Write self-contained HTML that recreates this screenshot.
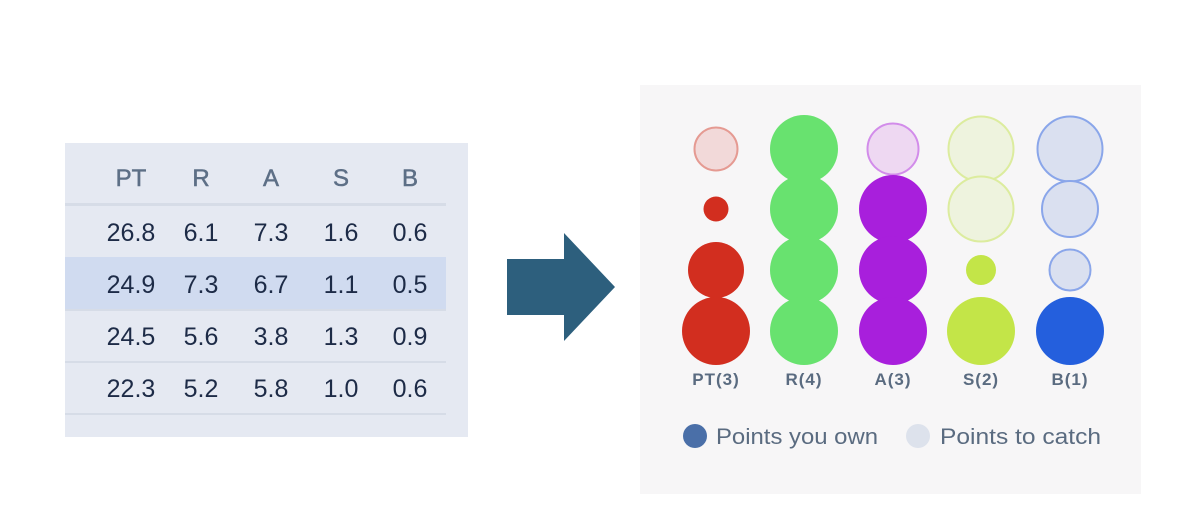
<!DOCTYPE html>
<html><head><meta charset="utf-8"><style>
html,body{margin:0;padding:0;background:#fff;}
svg{display:block;}
</style></head><body>
<svg width="1192" height="532" viewBox="0 0 1192 532" xmlns="http://www.w3.org/2000/svg" font-family="Liberation Sans, sans-serif">
<rect x="0" y="0" width="1192" height="532" fill="#ffffff"/>
<!-- table -->
<rect x="65" y="143" width="403" height="294" fill="#e5e9f2"/>
<rect x="65" y="257" width="381" height="52" fill="#d0dbf0"/>
<g fill="#d6dce7">
<rect x="65" y="203" width="381" height="3"/>
<rect x="65" y="309" width="381" height="2"/>
<rect x="65" y="361" width="381" height="2"/>
<rect x="65" y="413" width="381" height="2"/>
</g>
<g font-size="24" fill="#5d6f86" text-anchor="middle" stroke="#5d6f86" stroke-width="0.5">
<text x="131" y="186">PT</text><text x="201" y="186">R</text><text x="271" y="186">A</text><text x="341" y="186">S</text><text x="410" y="186">B</text>
</g>
<g font-size="25" fill="#1d2b47" text-anchor="middle">
<text x="131" y="241">26.8</text><text x="201" y="241">6.1</text><text x="271" y="241">7.3</text><text x="341" y="241">1.6</text><text x="410" y="241">0.6</text>
<text x="131" y="293">24.9</text><text x="201" y="293">7.3</text><text x="271" y="293">6.7</text><text x="341" y="293">1.1</text><text x="410" y="293">0.5</text>
<text x="131" y="345">24.5</text><text x="201" y="345">5.6</text><text x="271" y="345">3.8</text><text x="341" y="345">1.3</text><text x="410" y="345">0.9</text>
<text x="131" y="397">22.3</text><text x="201" y="397">5.2</text><text x="271" y="397">5.8</text><text x="341" y="397">1.0</text><text x="410" y="397">0.6</text>
</g>
<!-- arrow -->
<polygon points="507,259 564,259 564,233 615,287 564,341 564,315 507,315" fill="#2d5f7d"/>
<!-- panel -->
<rect x="640" y="85" width="501" height="409" fill="#f7f6f7"/>
<!-- PT -->
<circle cx="716" cy="149" r="21.5" fill="#f2d9d9" stroke="#e59a92" stroke-width="2"/>
<circle cx="716" cy="209" r="12.5" fill="#d22e1f"/>
<circle cx="716" cy="270" r="28" fill="#d22e1f"/>
<circle cx="716" cy="331" r="34" fill="#d22e1f"/>
<!-- R -->
<circle cx="804" cy="149" r="34" fill="#68e26f"/>
<circle cx="804" cy="209" r="34" fill="#68e26f"/>
<circle cx="804" cy="270" r="34" fill="#68e26f"/>
<circle cx="804" cy="331" r="34" fill="#68e26f"/>
<!-- A -->
<circle cx="893" cy="149" r="25.5" fill="#eed8f2" stroke="#d28cea" stroke-width="2"/>
<circle cx="893" cy="209" r="34" fill="#a81fdc"/>
<circle cx="893" cy="270" r="34" fill="#a81fdc"/>
<circle cx="893" cy="331" r="34" fill="#a81fdc"/>
<!-- S -->
<circle cx="981" cy="149" r="32.5" fill="#eef3de" stroke="#dcec9e" stroke-width="2"/>
<circle cx="981" cy="209" r="32.5" fill="#eef3de" stroke="#dcec9e" stroke-width="2"/>
<circle cx="981" cy="270" r="15" fill="#c3e548"/>
<circle cx="981" cy="331" r="34" fill="#c3e548"/>
<!-- B -->
<circle cx="1070" cy="149" r="32.5" fill="#dae0f0" stroke="#8aa6ea" stroke-width="2"/>
<circle cx="1070" cy="209" r="28" fill="#dae0f0" stroke="#8aa6ea" stroke-width="2"/>
<circle cx="1070" cy="270" r="20.5" fill="#dae0f0" stroke="#8aa6ea" stroke-width="2"/>
<circle cx="1070" cy="331" r="34" fill="#245fdd"/>
<!-- labels -->
<g font-size="17" font-weight="bold" fill="#5a6b80" text-anchor="middle" letter-spacing="1">
<text x="716" y="385">PT(3)</text><text x="804" y="385">R(4)</text><text x="893" y="385">A(3)</text><text x="981" y="385">S(2)</text><text x="1070" y="385">B(1)</text>
</g>
<!-- legend -->
<circle cx="695" cy="436" r="12" fill="#4a6fa8"/>
<text x="716" y="444" font-size="22" fill="#5a6b80" textLength="162" lengthAdjust="spacingAndGlyphs">Points you own</text>
<circle cx="918" cy="436" r="12" fill="#dde2ec"/>
<text x="940" y="444" font-size="22" fill="#5a6b80" textLength="161" lengthAdjust="spacingAndGlyphs">Points to catch</text>
</svg>
</body></html>
